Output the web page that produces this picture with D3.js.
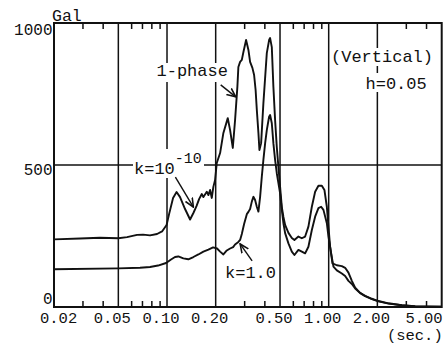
<!DOCTYPE html>
<html><head><meta charset="utf-8">
<script src="https://cdn.jsdelivr.net/npm/d3@7"></script>
<style>
html,body{margin:0;padding:0;background:#fff;}
text{font-family:"Liberation Mono","DejaVu Sans Mono",monospace;fill:#111;}
</style></head>
<body><svg id="c" width="445" height="346"></svg>
<script>
// ---- data (period in sec, response in Gal) ----
const periodUpper = [0.02,0.029,0.0385,0.05,0.0566,0.0653,0.0711,0.0785,0.0868,0.0932,0.0994,0.103,0.109,0.1146,0.1204,0.1293,0.1389,0.1456,0.1524,0.1579,0.1641,0.1679,0.1762,0.1803,0.1847,0.1892,0.1935,0.1983,0.2031,0.213,0.2232,0.2376,0.2456,0.2552,0.2636,0.2724,0.2763,0.2832,0.2902,0.2969,0.3084,0.3188,0.3265,0.3374,0.3457,0.3532,0.3593,0.3676,0.3729,0.382,0.3946,0.4142,0.428,0.4342,0.4448,0.455,0.4662,0.4776,0.4887,0.5006,0.513,0.5248,0.5377,0.5636,0.5915,0.6138,0.6498,0.6821,0.7149,0.7493,0.7866,0.8244,0.864,0.907,0.9413,0.974,0.9966,1.021,1.055,1.123,1.206,1.264,1.325,1.391,1.458,1.565,1.681,1.849,2.032,2.344,2.836,3.428,5.0];
const galUpper = [238,241,244,242,246,254,255,252,257,266,289,327,384,405,387,345,308,331,356,380,398,387,406,394,412,384,423,447,507,542,613,665,623,560,658,775,845,863,870,898,940,905,863,842,817,764,694,613,553,577,718,894,940,947,915,775,658,563,493,423,352,317,289,261,243,236,248,242,248,283,353,406,427,427,412,353,283,212,154,147,144,138,121,92,68,50,39,29,21,13,6,3,1];
const periodLower = [0.02,0.05,0.0681,0.0785,0.088,0.0987,0.1059,0.1121,0.1175,0.1262,0.1355,0.1456,0.1563,0.1679,0.1803,0.1927,0.204,0.213,0.2232,0.2343,0.2456,0.2564,0.2636,0.2763,0.2832,0.2902,0.2998,0.3116,0.3188,0.3265,0.3346,0.3423,0.3506,0.3593,0.3676,0.3766,0.3858,0.3946,0.4044,0.4142,0.428,0.4342,0.4448,0.455,0.4662,0.4776,0.4887,0.5006,0.513,0.5248,0.5377,0.5636,0.5915,0.6138,0.6498,0.6821,0.7149,0.7493,0.7866,0.8244,0.864,0.898,0.928,0.974,0.9966,1.036,1.07,1.123,1.206,1.264,1.325,1.391,1.458,1.565,1.681,1.849,2.032,2.344,2.836,3.428,5.0];
const galLower = [133,136,138,141,146,155,167,176,178,171,168,176,185,195,202,210,206,195,185,199,206,211,220,229,236,257,292,327,335,345,371,388,377,353,336,388,459,518,576,623,670,676,647,576,518,471,436,400,342,295,260,224,195,183,201,195,189,212,271,318,348,353,342,295,248,189,142,129,118,109,92,81,65,49,38,28,20,12,6,2,1];
const majorPeriods = [0.02,0.05,0.10,0.20,0.50,1.00,2.00,5.00];
const majorLabels = ["0.02","0.05","0.10","0.20","0.50","1.00","2.00","5.00"];
const minorPeriods = [0.03,0.04,0.06,0.07,0.08,0.09,0.3,0.4,0.6,0.7,0.8,0.9,3,4];
const yTicks = [0,500,1000];
const yLabels = ["0","500","1000"];

// ---- layout ----
const L=54, R=441.7, T=23, B=307;
const svg = d3.select("#c");
const x = d3.scaleLog().domain([0.02,5]).range([L,R]);
const y = d3.scaleLinear().domain([0,1000]).range([B,T]);

// grid: vertical major lines
svg.append("g").selectAll("line").data(majorPeriods.slice(1,-1)).join("line")
  .attr("x1",d=>x(d)).attr("x2",d=>x(d)).attr("y1",T).attr("y2",B)
  .attr("stroke","#111").attr("stroke-width",1.5);
// horizontal 500 line
svg.append("line").attr("x1",L).attr("x2",R).attr("y1",y(500)).attr("y2",y(500))
  .attr("stroke","#111").attr("stroke-width",1.5);
// frame
svg.append("rect").attr("x",L).attr("y",T).attr("width",R-L).attr("height",B-T)
  .attr("fill","none").attr("stroke","#111").attr("stroke-width",2);

// minor ticks top & bottom (inward)
const minorB = d3.axisBottom(x).tickValues(minorPeriods).tickSize(-6).tickFormat("");
const gB = svg.append("g").attr("transform",`translate(0,${B})`).call(minorB);
const minorT = d3.axisTop(x).tickValues(minorPeriods).tickSize(-6).tickFormat("");
const gT = svg.append("g").attr("transform",`translate(0,${T})`).call(minorT);
[gB,gT].forEach(g=>{g.select(".domain").remove();g.selectAll("line").attr("stroke","#111").attr("stroke-width",1.5);});

// x tick labels
svg.append("g").selectAll("text").data(majorPeriods).join("text")
  .attr("x",(d,i)=> i===0 ? x(d)-14 : (i===majorPeriods.length-1 ? x(d)+1 : x(d)-6))
  .attr("y",322.5)
  .attr("text-anchor",(d,i)=> i===0 ? "start" : (i===majorPeriods.length-1 ? "end" : "middle"))
  .attr("font-size",15.5).text((d,i)=>majorLabels[i]);
svg.append("text").attr("x",R+1).attr("y",340).attr("text-anchor","end").attr("font-size",15.5).text("(sec.)");

// y tick labels
svg.append("g").selectAll("text").data(yTicks).join("text")
  .attr("x",52.5).attr("y",d=> y(d) + (d===1000?12:(d===500?10:-3)))
  .attr("text-anchor","end").attr("font-size",16).text((d,i)=>yLabels[i]);
svg.append("text").attr("x",52).attr("y",21).attr("font-size",16.5).text("Gal");

// annotation backgrounds & text
function label(txt, tx, ty, fs){
  return svg.append("text").attr("x",tx).attr("y",ty).attr("font-size",fs).text(txt);
}
function bg(x0,y0,w,h){ svg.append("rect").attr("x",x0).attr("y",y0).attr("width",w).attr("height",h).attr("fill","#fff"); }
bg(156,63,73,19);
label("1-phase",156.5,76,17);
bg(332,48,99,18);
label("(Vertical)",331,62,17);
bg(365,73,63,19);
label("h=0.05",365.5,89,17);
bg(133,149,71,29);
const kt = svg.append("text").attr("x",134).attr("y",173.5).attr("font-size",17);
kt.append("tspan").text("k=10");
kt.append("tspan").attr("dy",-11).attr("font-size",15).text("-10");
label("k=1.0",225,278,17);

// arrows (tips on curves, via scales)
svg.append("defs").append("marker").attr("id","ah").attr("viewBox","0 0 10 10")
  .attr("refX",9).attr("refY",5).attr("markerWidth",7).attr("markerHeight",7).attr("orient","auto")
  .append("path").attr("d","M0,1 L9,5 L0,9").attr("fill","none").attr("stroke","#111").attr("stroke-width",1.6);
const arrows = [
  {tip:[0.266,740], dx:-15, dy:-12},
  {tip:[0.1456,352], dx:-18, dy:-30},
  {tip:[0.2832,222], dx:12, dy:17}
];
svg.append("g").selectAll("line").data(arrows).join("line")
  .attr("x1",d=>x(d.tip[0])+d.dx).attr("y1",d=>y(d.tip[1])+d.dy)
  .attr("x2",d=>x(d.tip[0])).attr("y2",d=>y(d.tip[1]))
  .attr("stroke","#111").attr("stroke-width",1.4).attr("marker-end","url(#ah)");

// curves
const line = d3.line().x(d=>x(d[0])).y(d=>y(d[1]));
svg.append("path").datum(d3.zip(periodUpper,galUpper)).attr("d",line)
  .attr("fill","none").attr("stroke","#111").attr("stroke-width",1.9).attr("stroke-linejoin","round");
svg.append("path").datum(d3.zip(periodLower,galLower)).attr("d",line)
  .attr("fill","none").attr("stroke","#111").attr("stroke-width",1.9).attr("stroke-linejoin","round");
</script></body></html>
